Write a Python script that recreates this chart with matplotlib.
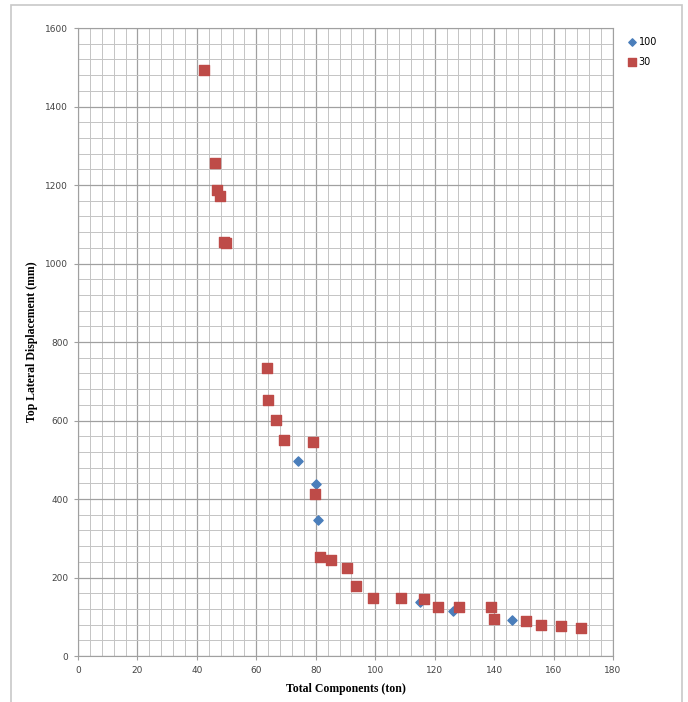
import numpy as np
import matplotlib.pyplot as plt
from matplotlib.patches import Rectangle

# series "100" (blue diamonds)
x100 = [74.0, 80.1, 80.8, 115.1, 126.2, 146.0]
y100 = [497, 438, 346, 138, 115, 92]

# series "30" (red squares)
x30 = [42.4, 46.1, 46.8, 47.8, 49.1, 49.8, 63.6, 63.9, 66.6, 69.3, 79.1, 79.7,
       81.4, 85.1, 90.5, 93.5, 99.3, 108.7, 116.4, 121.1, 128.2, 139.0, 140.0,
       150.7, 155.8, 162.5, 169.2]
y30 = [1493, 1256, 1187, 1172, 1055, 1052, 734, 652, 601, 550, 545, 413,
       252, 245, 224, 178, 148, 148, 145, 125, 125, 125, 94,
       89, 79, 76, 71]

fig = plt.figure(figsize=(6.88, 7.02), dpi=100)
# chart area outline (bottom edge falls outside the picture)
fig.patches.append(Rectangle((0.016, -0.01), 0.975, 1.003, transform=fig.transFigure,
                             fill=False, edgecolor='#c8c8c8', linewidth=1.2))
ax = fig.add_axes([0.1134, 0.0655, 0.7776, 0.8945])

ax.set_xlim(0, 180)
ax.set_ylim(0, 1600)
ax.set_xticks(np.arange(0, 181, 20))
ax.set_yticks(np.arange(0, 1601, 200))
ax.set_xticks(np.arange(0, 181, 4), minor=True)
ax.set_yticks(np.arange(0, 1601, 40), minor=True)
ax.grid(which='major', color='#a0a0a0', linewidth=0.9)
ax.grid(which='minor', color='#c4c4c4', linewidth=0.7)
ax.set_axisbelow(True)
for s in ax.spines.values():
    s.set_color('#a0a0a0')
ax.tick_params(which='major', length=3, color='#a0a0a0', labelsize=6.5,
               labelcolor='#444444', pad=4)
ax.tick_params(which='minor', length=0)

ax.scatter(x100, y100, marker='D', s=22, color='#4a7ebb', label='100', zorder=3)
ax.scatter(x30, y30, marker='s', s=46, color='#be4b48', label='30', zorder=3)

ax.set_xlabel('Total Components (ton)', family='Liberation Serif', fontweight='bold',
              fontsize=8.5, labelpad=6)
ax.set_ylabel('Top Lateral Displacement (mm)', family='Liberation Serif', fontweight='bold',
              fontsize=8.5, labelpad=5)

leg = ax.legend(loc='upper left', bbox_to_anchor=(1.01, 1.0), frameon=False,
                fontsize=7, handletextpad=0.2, handlelength=1.0, labelspacing=1.0,
                markerscale=0.8)

fig.savefig('out.png', dpi=100)
